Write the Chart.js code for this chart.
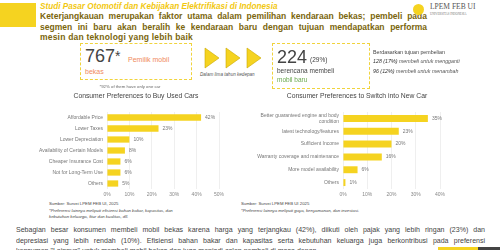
<!DOCTYPE html>
<html><head><meta charset="utf-8">
<script src="https://cdn.jsdelivr.net/npm/chart.js@4"></script>
<style>
html,body{margin:0;padding:0;background:#fff;}
body{width:500px;height:250px;position:relative;overflow:hidden;font-family:"Liberation Sans",Arial,sans-serif;}
.a{position:absolute;white-space:nowrap;}
.j{text-align:justify;text-align-last:justify;}
.p{font-size:8px;line-height:10.6px;color:#444;transform:scaleX(0.88);transform-origin:0 0;}
</style></head><body>
<script>
const usedLabels = ["Affordable Price","Lower Taxes","Lower Depreciation","Availability of Certain Models","Cheaper Insurance Cost","Not for Long-Term Use","Others"];
const usedValues = [42,23,10,8,6,6,5];
const newLabels = [["Better guaranteed engine and body","condition"],"latest technology/features","Sufficient Income","Warranty coverage and maintenance","More model availability","Others"];
const newValues = [35,23,20,16,6,1];
const usedMax = 50;
const newMax = 40;
</script>

<div class="a" style="left:0;top:3px;width:36px;height:24px;background:#f5d320;"></div>
<div class="a" style="left:40px;top:2px;font-size:8.2px;line-height:10px;font-style:italic;font-weight:bold;color:#f2c811;">Studi Pasar Otomotif dan Kebijakan Elektrifikasi di Indonesia</div>
<div class="a j" style="left:40px;top:11px;width:387px;font-size:8.5px;line-height:10.5px;font-weight:bold;color:#7a650c;">Keterjangkauan merupakan faktor utama dalam pemilihan kendaraan bekas; pembeli pada</div>
<div class="a j" style="left:40px;top:21.5px;width:387px;font-size:8.5px;line-height:10.5px;font-weight:bold;color:#7a650c;">segmen ini baru akan beralih ke kendaraan baru dengan tujuan mendapatkan performa</div>
<div class="a" style="left:40px;top:32px;font-size:8.5px;line-height:10.5px;font-weight:bold;color:#7a650c;letter-spacing:0.2px;">mesin dan teknologi yang lebih baik</div>

<div class="a" style="left:413px;top:4px;width:11px;height:11px;border-radius:50%;background:#f5d320;"></div>
<div class="a" style="left:430px;top:3px;font-family:'Liberation Serif',serif;font-size:7.5px;line-height:8px;color:#555;">LPEM FEB UI</div>
<div class="a" style="left:430px;top:12px;font-family:'Liberation Serif',serif;font-size:3px;line-height:4px;color:#777;">UNIVERSITAS INDONESIA</div>

<div class="a" style="left:80px;top:43px;width:110px;height:35px;border:1px dashed #f0d33c;"></div>
<div class="a" style="left:85px;top:46px;font-size:18px;line-height:20px;color:#444;">767<span style="font-size:14px;vertical-align:top;">*</span></div>
<div class="a" style="left:128px;top:55px;font-size:7px;line-height:9px;color:#f08a5d;">Pemilik mobil</div>
<div class="a" style="left:85px;top:67px;font-size:7px;line-height:9px;color:#f08a5d;">bekas</div>

<canvas id="arr" class="a" width="60" height="22" style="left:204px;top:47px;"></canvas>
<div class="a" style="left:200px;top:72px;font-size:4.6px;line-height:6px;font-style:italic;color:#555;">Dalam lima tahun kedepan</div>

<div class="a" style="left:272px;top:43px;width:96px;height:44px;border:1px dashed #f0d33c;"></div>
<div class="a" style="left:277px;top:47px;font-size:18px;line-height:20px;color:#444;">224</div>
<div class="a" style="left:310px;top:55px;font-size:6.5px;line-height:9px;color:#444;">(29%)</div>
<div class="a" style="left:277px;top:66px;font-size:6.5px;line-height:9px;color:#444;">berencana membeli</div>
<div class="a" style="left:277px;top:75px;font-size:6.5px;line-height:9px;color:#6aa84f;">mobil baru</div>

<div class="a" style="left:373px;top:48px;font-size:5.3px;line-height:8px;color:#444;">Berdasarkan tujuan pembelian</div>
<div class="a" style="left:373px;top:57px;font-size:5.3px;line-height:8px;color:#555;font-style:italic;"><span style="color:#333;">128 (17%)</span> membeli untuk mengganti</div>
<div class="a" style="left:373px;top:67px;font-size:5.3px;line-height:8px;color:#555;font-style:italic;"><span style="color:#333;">96 (12%)</span> membeli untuk menambah</div>

<div class="a" style="left:80px;top:84px;width:100px;text-align:center;font-size:4.3px;line-height:6px;color:#666;">*92% of them have only one car</div>
<div class="a" style="left:36px;top:91px;width:200px;text-align:center;font-size:6.8px;line-height:9px;color:#444;">Consumer Preferences to Buy Used Cars</div>
<div class="a" style="left:257px;top:91px;width:200px;text-align:center;font-size:6.8px;line-height:9px;color:#444;">Consumer Preferences to Switch into New Car</div>

<canvas id="c1" class="a" width="250" height="95" style="left:0;top:105px;"></canvas>
<canvas id="c2" class="a" width="250" height="95" style="left:250px;top:105px;"></canvas>

<div class="a" style="left:49px;top:201px;font-size:4.3px;line-height:6.5px;color:#444;">Sumber: Survei LPEM FEB UI, 2025<br><i>*Preferensi lainnya meliputi efisiensi bahan bakar, kapasitas, dan<br>kebutuhan keluarga, fitur dan kualitas, dll.</i></div>
<div class="a" style="left:241px;top:201px;font-size:4.3px;line-height:6.5px;color:#444;">Sumber: Survei LPEM FEB UI 2025<br><i>*Preferensi lainnya meliputi gaya, kenyamanan, dan investasi.</i></div>

<div class="a j p" style="left:16px;top:225px;width:533px;">Sebagian besar konsumen membeli mobil bekas karena harga yang terjangkau (42%), diikuti oleh pajak yang lebih ringan (23%) dan</div>
<div class="a j p" style="left:16px;top:235.6px;width:533px;">depresiasi yang lebih rendah (10%). Efisiensi bahan bakar dan kapasitas serta kebutuhan keluarga juga berkontribusi pada preferensi</div>
<div class="a p" style="left:16px;top:246.2px;">konsumen "Lainnya" untuk membeli mobil bekas dan juga menjadi calon pembeli di masa depan.</div>

<div class="a" style="left:438px;top:247px;width:40px;height:3px;background:#f5d320;"></div>
<div class="a" style="left:478px;top:247px;width:22px;height:3px;background:#444;"></div>

<script>
(function(){
  const c=document.getElementById('arr').getContext('2d');
  c.fillStyle='#f5d320'; c.strokeStyle='#c9a800'; c.lineWidth=0.6;
  [0,21,42].forEach(x=>{c.beginPath();c.moveTo(x+1,1);c.lineTo(x+15,11);c.lineTo(x+1,21);c.closePath();c.fill();c.stroke();});
})();

const valueLabels = {
  id:'valueLabels',
  afterDatasetsDraw(chart){
    const ctx=chart.ctx;
    ctx.save();
    ctx.font='5px "Liberation Sans", Arial, sans-serif';
    ctx.fillStyle='#777';
    ctx.textBaseline='middle';
    ctx.textAlign='left';
    chart.getDatasetMeta(0).data.forEach((el,i)=>{
      ctx.fillText(chart.data.datasets[0].data[i]+'%', el.x+4, el.y);
    });
    ctx.restore();
  }
};

function makeChart(id, labels, values, max, yWidth, padRight, barPct){
  return new Chart(document.getElementById(id), {
    type:'bar',
    data:{labels:labels, datasets:[{data:values, backgroundColor:'#f5d320', borderWidth:0, barPercentage:barPct, categoryPercentage:1}]},
    options:{
      indexAxis:'y', responsive:false, animation:false, devicePixelRatio:1,
      layout:{padding:{top:1,right:padRight,left:0,bottom:0}},
      plugins:{legend:{display:false}, tooltip:{enabled:false}, title:{display:false}},
      scales:{
        x:{min:0,max:max,
           ticks:{stepSize:10, padding:3, color:'#888', font:{size:5, family:'"Liberation Sans", Arial, sans-serif'}, callback:v=>v+'%'},
           grid:{color:'#ebebeb', drawTicks:false, lineWidth:0.8},
           border:{display:false},
           afterFit(s){s.height=11;}
        },
        y:{ticks:{autoSkip:false, padding:4, color:'#777', font:{size:5, family:'"Liberation Sans", Arial, sans-serif'}},
           grid:{display:false, drawTicks:false},
           border:{display:false},
           afterFit(s){s.width=yWidth;}
        }
      }
    },
    plugins:[valueLabels]
  });
}
makeChart('c1', usedLabels, usedValues, usedMax, 107, 31, 0.57);
makeChart('c2', newLabels, newValues, newMax, 93, 60, 0.54);
</script>
</body></html>
